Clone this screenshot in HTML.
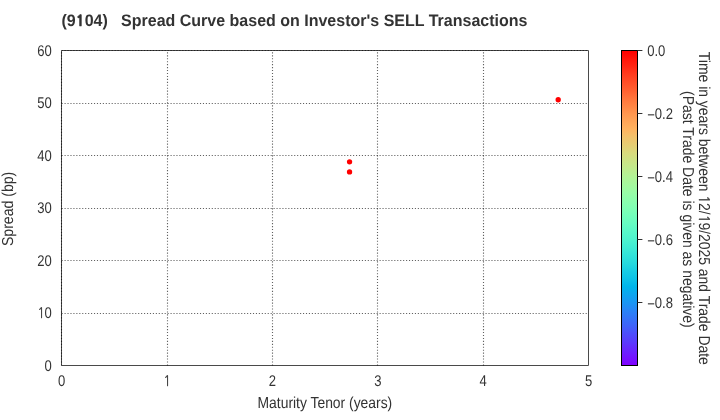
<!DOCTYPE html>
<html><head><meta charset="utf-8"><style>
html,body{margin:0;padding:0;background:#fff;}
svg{display:block;will-change:transform;}
text{font-family:"Liberation Sans",sans-serif;text-rendering:geometricPrecision;}
</style></head><body>
<svg width="720" height="420" viewBox="0 0 720 420">
<defs><linearGradient id="cb" x1="0" y1="0" x2="0" y2="1"><stop offset="0.0000" stop-color="#ff0000"/><stop offset="0.0250" stop-color="#ff1309"/><stop offset="0.0500" stop-color="#ff2613"/><stop offset="0.0750" stop-color="#ff3b1e"/><stop offset="0.1000" stop-color="#ff4d27"/><stop offset="0.1250" stop-color="#ff5f30"/><stop offset="0.1500" stop-color="#ff733b"/><stop offset="0.1750" stop-color="#ff8444"/><stop offset="0.2000" stop-color="#ff964f"/><stop offset="0.2250" stop-color="#ffa558"/><stop offset="0.2500" stop-color="#ffb360"/><stop offset="0.2750" stop-color="#f2c26b"/><stop offset="0.3000" stop-color="#e6cd73"/><stop offset="0.3250" stop-color="#d9da7d"/><stop offset="0.3500" stop-color="#cce385"/><stop offset="0.3750" stop-color="#c0eb8d"/><stop offset="0.4000" stop-color="#b2f396"/><stop offset="0.4250" stop-color="#a6f89d"/><stop offset="0.4500" stop-color="#99fca6"/><stop offset="0.4750" stop-color="#8cfead"/><stop offset="0.5000" stop-color="#80ffb4"/><stop offset="0.5250" stop-color="#72febb"/><stop offset="0.5500" stop-color="#66fcc2"/><stop offset="0.5750" stop-color="#58f8c9"/><stop offset="0.6000" stop-color="#4df3ce"/><stop offset="0.6250" stop-color="#40ecd4"/><stop offset="0.6500" stop-color="#32e3da"/><stop offset="0.6750" stop-color="#27dade"/><stop offset="0.7000" stop-color="#18cde4"/><stop offset="0.7250" stop-color="#0dc2e8"/><stop offset="0.7500" stop-color="#00b5eb"/><stop offset="0.7750" stop-color="#0ea5ef"/><stop offset="0.8000" stop-color="#1996f3"/><stop offset="0.8250" stop-color="#2884f6"/><stop offset="0.8500" stop-color="#3473f8"/><stop offset="0.8750" stop-color="#4062fa"/><stop offset="0.9000" stop-color="#4e4dfc"/><stop offset="0.9250" stop-color="#5a3bfd"/><stop offset="0.9500" stop-color="#6826fe"/><stop offset="0.9750" stop-color="#7413ff"/><stop offset="1.0000" stop-color="#8000ff"/></linearGradient></defs>
<rect x="0" y="0" width="720" height="420" fill="#fff"/>
<text transform="translate(61.50,26.20) scale(1.0,1.04)" font-size="16" font-weight="bold" fill="#333333" xml:space="preserve">(9<tspan font-family="NanumGothic, Liberation Sans, sans-serif" font-size="14.542" dx="0.003" dy="0.000" stroke="#333333" stroke-width="0.6">1</tspan><tspan dx="0.081">04)   Spread Curve based on Investor's SELL Transactions</tspan></text>
<path d="M61.5,50.5H588.5V365.5H61.5Z" fill="none" stroke="#4a4a4a" stroke-width="1"/>
<g stroke="#000000" stroke-width="1.11" stroke-dasharray="1.11 1.834" fill="none" stroke-opacity="0.62"><line x1="61.5" y1="365.5" x2="61.5" y2="50.5"/><line x1="167.5" y1="365.5" x2="167.5" y2="50.5"/><line x1="272.5" y1="365.5" x2="272.5" y2="50.5"/><line x1="377.5" y1="365.5" x2="377.5" y2="50.5"/><line x1="483.5" y1="365.5" x2="483.5" y2="50.5"/><line x1="61.6" y1="50.5" x2="588.5" y2="50.5"/><line x1="61.6" y1="103.5" x2="588.5" y2="103.5"/><line x1="61.6" y1="155.5" x2="588.5" y2="155.5"/><line x1="61.6" y1="208.5" x2="588.5" y2="208.5"/><line x1="61.6" y1="260.5" x2="588.5" y2="260.5"/><line x1="61.6" y1="313.5" x2="588.5" y2="313.5"/></g>
<circle cx="349.55" cy="161.8" r="2.65" fill="#ff0000"/>
<circle cx="349.55" cy="171.95" r="2.65" fill="#ff0000"/>
<circle cx="558.2" cy="99.75" r="2.65" fill="#ff0000"/>
<text transform="translate(61.60,385.60) scale(0.94,1.12)" font-size="13.89" text-anchor="middle" fill="#333333" xml:space="preserve">0</text>
<text transform="translate(163.37,385.60) scale(0.94,1.12)" font-size="13.89" fill="#333333" xml:space="preserve"><tspan font-family="NanumGothic, Liberation Sans, sans-serif" font-size="12.862" dx="0.268" dy="0.000" stroke="#333333" stroke-width="0.25">1</tspan></text>
<text transform="translate(272.40,385.60) scale(0.94,1.12)" font-size="13.89" text-anchor="middle" fill="#333333" xml:space="preserve">2</text>
<text transform="translate(377.80,385.60) scale(0.94,1.12)" font-size="13.89" text-anchor="middle" fill="#333333" xml:space="preserve">3</text>
<text transform="translate(483.20,385.60) scale(0.94,1.12)" font-size="13.89" text-anchor="middle" fill="#333333" xml:space="preserve">4</text>
<text transform="translate(588.60,385.60) scale(0.94,1.12)" font-size="13.89" text-anchor="middle" fill="#333333" xml:space="preserve">5</text>
<text transform="translate(51.80,370.50) scale(0.94,1.12)" font-size="13.89" text-anchor="end" fill="#333333" xml:space="preserve">0</text>
<text x="-0.268" transform="translate(51.80,318.00) scale(0.94,1.12)" font-size="13.89" text-anchor="end" fill="#333333" xml:space="preserve"><tspan font-family="NanumGothic, Liberation Sans, sans-serif" font-size="12.862" dx="0.268" dy="0.000" stroke="#333333" stroke-width="0.25">1</tspan><tspan dx="-0.339">0</tspan></text>
<text transform="translate(51.80,265.50) scale(0.94,1.12)" font-size="13.89" text-anchor="end" fill="#333333" xml:space="preserve">20</text>
<text transform="translate(51.80,213.00) scale(0.94,1.12)" font-size="13.89" text-anchor="end" fill="#333333" xml:space="preserve">30</text>
<text transform="translate(51.80,160.50) scale(0.94,1.12)" font-size="13.89" text-anchor="end" fill="#333333" xml:space="preserve">40</text>
<text transform="translate(51.80,108.00) scale(0.94,1.12)" font-size="13.89" text-anchor="end" fill="#333333" xml:space="preserve">50</text>
<text transform="translate(51.80,55.50) scale(0.94,1.12)" font-size="13.89" text-anchor="end" fill="#333333" xml:space="preserve">60</text>
<text transform="translate(324.90,408.00) scale(1.0,1.14)" font-size="13.89" text-anchor="middle" fill="#333333" xml:space="preserve">Maturity Tenor (years)</text>
<text transform="translate(13.20,208.90) rotate(-90) scale(1.015,1.14)" font-size="13.89" text-anchor="middle" fill="#333333" xml:space="preserve">Spread (bp)</text>
<rect x="621.5" y="50.5" width="16" height="315" fill="url(#cb)"/>
<rect x="621.5" y="50.5" width="16" height="315" fill="none" stroke="#000" stroke-width="1"/>
<line x1="637.5" y1="50.50" x2="642.4" y2="50.50" stroke="#333" stroke-width="1"/>
<text transform="translate(647.20,55.50) scale(0.94,1.12)" font-size="13.89" fill="#333333" xml:space="preserve">0.0</text>
<line x1="637.5" y1="113.50" x2="642.4" y2="113.50" stroke="#333" stroke-width="1"/>
<text transform="translate(647.20,118.50) scale(0.94,1.12)" font-size="13.89" fill="#333333" xml:space="preserve"><tspan dy="1.0">−</tspan><tspan dy="-1.0">0.2</tspan></text>
<line x1="637.5" y1="176.50" x2="642.4" y2="176.50" stroke="#333" stroke-width="1"/>
<text transform="translate(647.20,181.50) scale(0.94,1.12)" font-size="13.89" fill="#333333" xml:space="preserve"><tspan dy="1.0">−</tspan><tspan dy="-1.0">0.4</tspan></text>
<line x1="637.5" y1="239.50" x2="642.4" y2="239.50" stroke="#333" stroke-width="1"/>
<text transform="translate(647.20,244.50) scale(0.94,1.12)" font-size="13.89" fill="#333333" xml:space="preserve"><tspan dy="1.0">−</tspan><tspan dy="-1.0">0.6</tspan></text>
<line x1="637.5" y1="302.50" x2="642.4" y2="302.50" stroke="#333" stroke-width="1"/>
<text transform="translate(647.20,307.50) scale(0.94,1.12)" font-size="13.89" fill="#333333" xml:space="preserve"><tspan dy="1.0">−</tspan><tspan dy="-1.0">0.8</tspan></text>
<text transform="translate(699.20,208.35) rotate(90) scale(1.0035,1.14)" font-size="13.89" text-anchor="middle" fill="#333333" xml:space="preserve">Time in years between <tspan font-family="NanumGothic, Liberation Sans, sans-serif" font-size="12.862" dx="0.268" dy="0.000" stroke="#333333" stroke-width="0.25">1</tspan><tspan dx="-0.339">2/</tspan><tspan font-family="NanumGothic, Liberation Sans, sans-serif" font-size="12.862" dx="0.268" dy="0.000" stroke="#333333" stroke-width="0.25">1</tspan><tspan dx="-0.339">9/2025 and Trade Date</tspan></text>
<text transform="translate(683.30,209.35) rotate(90) scale(1.0056,1.14)" font-size="13.89" text-anchor="middle" fill="#333333" xml:space="preserve">(Past Trade Date is given as negative)</text>
</svg></body></html>
